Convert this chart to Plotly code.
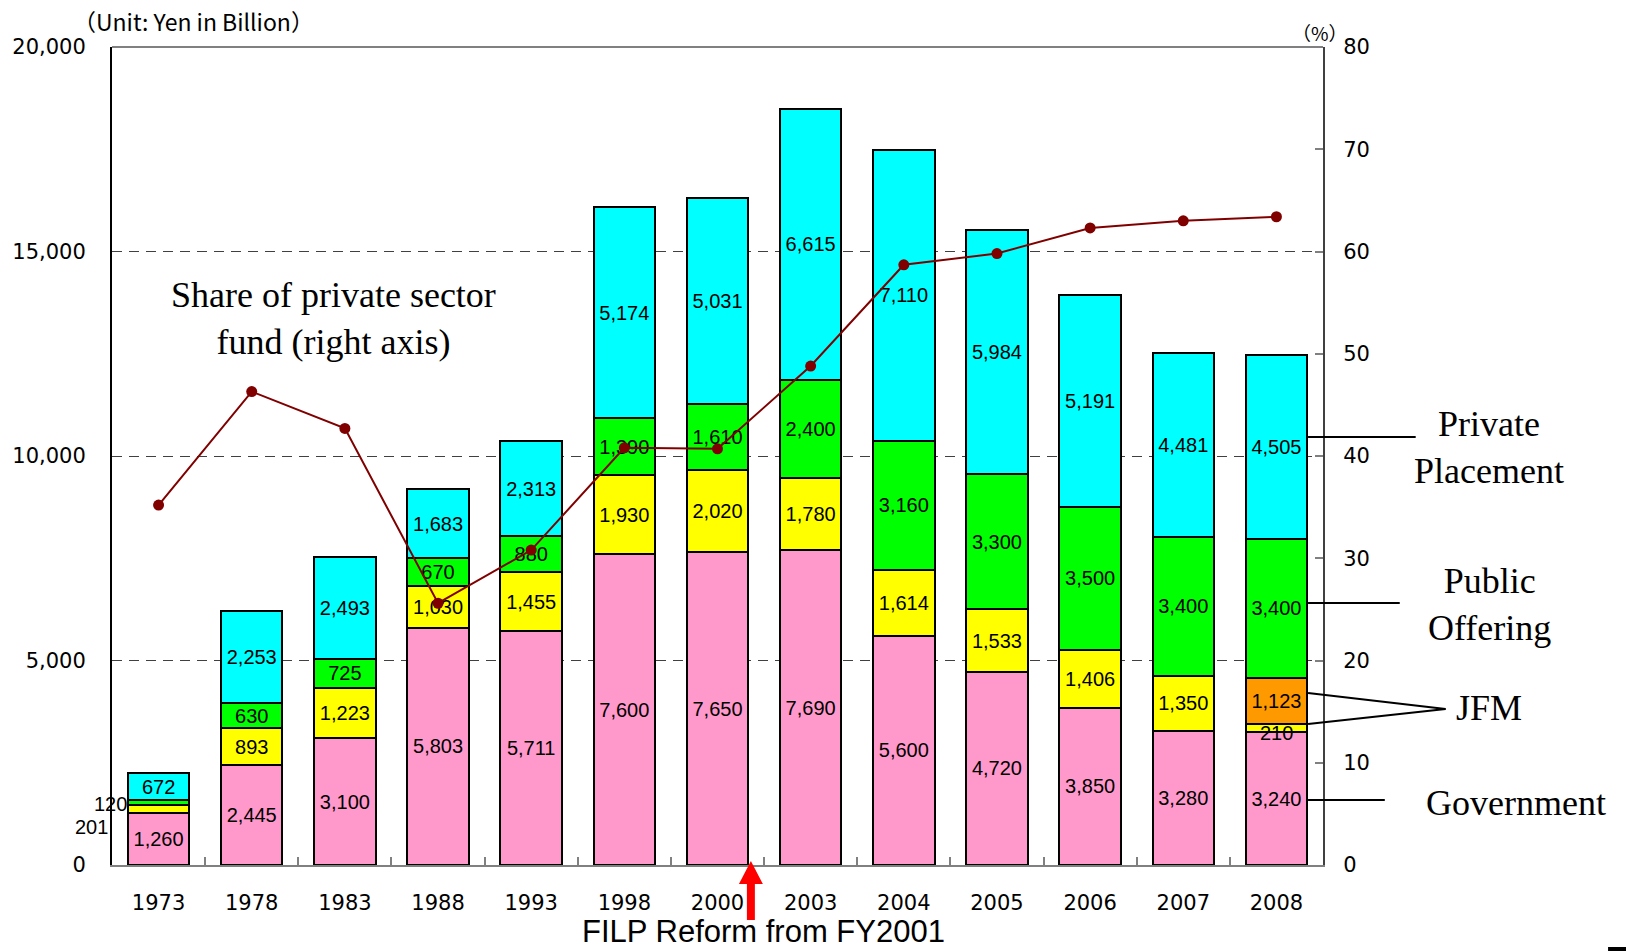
import plotly.graph_objects as go

W, H = 1627, 951
L, R, T, B = 108, 1323, 47, 865  # plot area in pixels

years = ["1973", "1978", "1983", "1988", "1993", "1998", "2000", "2003", "2004", "2005", "2006", "2007", "2008"]
government = [1260, 2445, 3100, 5803, 5711, 7600, 7650, 7690, 5600, 4720, 3850, 3280, 3240]
jfm_yellow = [201, 893, 1223, 1030, 1455, 1930, 2020, 1780, 1614, 1533, 1406, 1350, 210]
jfm_orange = [None] * 12 + [1123]
public_offering = [120, 630, 725, 670, 880, 1390, 1610, 2400, 3160, 3300, 3500, 3400, 3400]
private_placement = [672, 2253, 2493, 1683, 2313, 5174, 5031, 6615, 7110, 5984, 5191, 4481, 4505]
private_share = [35.2, 46.3, 42.7, 25.6, 30.8, 40.8, 40.7, 48.8, 58.7, 59.8, 62.3, 63.0, 63.4]

left_ticks = [0, 5000, 10000, 15000, 20000]
right_ticks = [0, 10, 20, 30, 40, 50, 60, 70, 80]

xpos = list(range(len(years)))
boundaries = [i + 0.5 for i in range(len(years) - 1)]


def px(x):
    return (x - L) / (R - L)


def py(y):
    return (B - y) / (B - T)


def fmt(v):
    return "" if v is None else f"{v:,}"


bar_font = dict(family="Liberation Sans, Arial, sans-serif", size=20, color="black")

fig = go.Figure()

series = [
    ("Government", government, "#FF99CC", [fmt(v) for v in government]),
    ("JFM", jfm_yellow, "#FFFF00", [""] + [fmt(v) for v in jfm_yellow[1:12]] + [""]),
    ("JFM (new)", jfm_orange, "#FF9900", [fmt(v) for v in jfm_orange]),
    ("Public Offering", public_offering, "#00FF00", [""] + [fmt(v) for v in public_offering[1:]]),
    ("Private Placement", private_placement, "#00FFFF", [fmt(v) for v in private_placement]),
]
for name, vals, color, txt in series:
    fig.add_trace(go.Bar(
        x=xpos, y=vals, name=name, width=0.66,
        marker=dict(color=color, line=dict(color="black", width=2)),
        text=txt, textposition="inside", insidetextanchor="middle",
        textangle=0, textfont=bar_font,
    ))

fig.add_trace(go.Scatter(
    x=xpos, y=private_share, yaxis="y2", mode="lines+markers",
    line=dict(color="#800000", width=2),
    marker=dict(color="#800000", size=11),
    name="Share of private sector fund",
))

annotations = []
# small labels outside 1973 bar
annotations.append(dict(x=xpos[0], y=government[0] + jfm_yellow[0] + public_offering[0] / 2,
                        text=f"{public_offering[0]:,}", showarrow=False, xref="x", yref="y",
                        xshift=-48, yshift=-1, font=bar_font))
annotations.append(dict(x=xpos[0], y=government[0] + jfm_yellow[0] / 2,
                        text=f"{jfm_yellow[0]:,}", showarrow=False, xref="x", yref="y",
                        xshift=-67, yshift=-18, font=bar_font))
# 2008 small yellow label
annotations.append(dict(x=xpos[12], y=government[12] + jfm_yellow[12] / 2,
                        text=f"{jfm_yellow[12]:,}", showarrow=False, xref="x", yref="y",
                        yshift=-5, font=bar_font))

serif = dict(family="Liberation Serif, Times New Roman, serif", size=36, color="black")


def ann(x, y, text, font, **kw):
    d = dict(x=px(x), y=py(y), xref="paper", yref="paper", text=text, showarrow=False,
             font=font, xanchor="center", yanchor="middle")
    d.update(kw)
    annotations.append(d)


ann(330, 318, "Share of private sector<br>fund (right axis)", serif)
ann(1490, 447, "Private<br>Placement", serif)
ann(1490, 604, "Public<br>Offering", serif)
ann(1490, 708, "JFM", serif)
ann(1517, 803, "Government", serif)
ann(190, 21, "（Unit: Yen in Billion）",
    dict(family="Noto Sans CJK JP, sans-serif", size=23, color="black"))
ann(1320, 32, "（%）", dict(family="Noto Sans CJK JP, sans-serif", size=19, color="black"))
ann(762, 931, "FILP Reform from FY2001",
    dict(family="Liberation Sans, Arial, sans-serif", size=31, color="black"))

shapes = []


def seg(x0, y0, x1, y1, color="black", width=2):
    shapes.append(dict(type="line", xref="paper", yref="paper",
                       x0=px(x0), y0=py(y0), x1=px(x1), y1=py(y1),
                       line=dict(color=color, width=width)))


# top frame line
seg(L, T, R, T, color="#808080", width=2)
# leader lines
seg(1308, 437, 1416, 437)
seg(1308, 603, 1400, 603)
seg(1308, 693, 1446, 709)
seg(1308, 724, 1446, 709)
seg(1308, 800, 1385, 800)
# tiny mark bottom-right
seg(1609, 949, 1627, 949, width=4)

# red arrow
pts = [(745, 920), (753, 920), (753, 884), (761, 884), (749, 861), (737, 884), (745, 884)]
path = "M " + " L ".join(f"{px(a):.5f},{py(b):.5f}" for a, b in pts) + " Z"
shapes.append(dict(type="path", xref="paper", yref="paper", path=path,
                   fillcolor="#FF0000", line=dict(color="#FF0000", width=0)))

tick_font = dict(family="DejaVu Sans, sans-serif", size=21, color="black")

fig.update_layout(
    width=W, height=H, autosize=False,
    margin=dict(l=L, r=W - R, t=T, b=H - B, pad=0),
    paper_bgcolor="white", plot_bgcolor="white",
    barmode="stack",
    showlegend=False,
    uniformtext=dict(minsize=20, mode="show"),
    xaxis=dict(range=[-0.5, len(years) - 0.5], tickmode="array", tickvals=xpos, ticktext=years,
               showgrid=False, showline=True, linecolor="#808080", linewidth=2,
               ticks="", tickfont=tick_font, ticklabelstandoff=18, zeroline=False,
               minor=dict(tickmode="array", tickvals=boundaries, ticks="inside", ticklen=8,
                          tickcolor="#808080", tickwidth=2, showgrid=False)),
    yaxis=dict(range=[0, 20000], tickmode="array", tickvals=left_ticks,
               ticktext=[f"{v:,}" for v in left_ticks], tickfont=tick_font,
               showgrid=True, gridcolor="#404040", gridwidth=1, griddash="10px,7px",
               showline=True, linecolor="black", linewidth=2, ticks="",
               zeroline=False, ticklabelstandoff=20),
    yaxis2=dict(range=[0, 80], tickmode="array", tickvals=right_ticks, overlaying="y", side="right",
                showgrid=False, showline=True, linecolor="#404040", linewidth=2,
                ticks="inside", ticklen=8, tickcolor="#808080", tickwidth=2,
                tickfont=tick_font, zeroline=False, ticklabelstandoff=14),
    annotations=annotations,
    shapes=shapes,
)

fig.write_html("out.html")
